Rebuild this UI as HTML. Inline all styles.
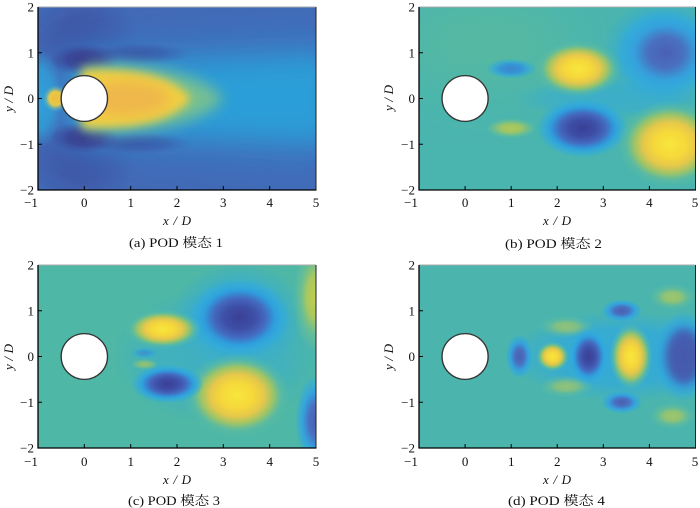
<!DOCTYPE html>
<html><head><meta charset="utf-8">
<style>
html,body{margin:0;padding:0;background:#fff;}
svg{display:block;}
.tk{font-family:"Liberation Serif","Noto Serif CJK SC",serif;font-size:13px;fill:#111;}
.lab{font-family:"Liberation Serif","Noto Serif CJK SC",serif;font-size:13px;font-style:italic;fill:#111;}
.cap{font-family:"Liberation Serif","Noto Serif CJK SC",serif;font-size:13px;fill:#111;}
</style></head>
<body>
<svg width="700" height="508" viewBox="0 0 700 508" xmlns="http://www.w3.org/2000/svg">
<defs>
  <clipPath id="cd" clipPathUnits="userSpaceOnUse"><rect x="-1" y="-2" width="6" height="4"/></clipPath>
  <filter id="b1" filterUnits="userSpaceOnUse" x="-2" y="-3" width="8" height="6"><feGaussianBlur stdDeviation="0.1"/></filter>
  <filter id="b15" filterUnits="userSpaceOnUse" x="-2" y="-3" width="8" height="6"><feGaussianBlur stdDeviation="0.15"/></filter>
  <filter id="b2" filterUnits="userSpaceOnUse" x="-2" y="-3" width="8" height="6"><feGaussianBlur stdDeviation="0.2"/></filter>
  <filter id="b3" filterUnits="userSpaceOnUse" x="-2" y="-3" width="8" height="6"><feGaussianBlur stdDeviation="0.3"/></filter>
  <filter id="b5" filterUnits="userSpaceOnUse" x="-2" y="-3" width="8" height="6"><feGaussianBlur stdDeviation="0.5"/></filter>

  <radialGradient id="gPos">
    <stop offset="0" stop-color="#f7e63c"/>
    <stop offset="0.3" stop-color="#f6d83a"/>
    <stop offset="0.5" stop-color="#e6c84a"/>
    <stop offset="0.68" stop-color="#9cc468"/>
    <stop offset="0.85" stop-color="#5cbca0" stop-opacity="0.6"/>
    <stop offset="1" stop-color="#5cbca0" stop-opacity="0"/>
  </radialGradient>
  <radialGradient id="gNeg">
    <stop offset="0" stop-color="#3a3f95"/>
    <stop offset="0.3" stop-color="#3e4fa6"/>
    <stop offset="0.5" stop-color="#4468be"/>
    <stop offset="0.7" stop-color="#2f9edd"/>
    <stop offset="0.86" stop-color="#30aadf" stop-opacity="0.6"/>
    <stop offset="1" stop-color="#30aadf" stop-opacity="0"/>
  </radialGradient>
  <radialGradient id="gNegL">
    <stop offset="0" stop-color="#4a5fb2"/>
    <stop offset="0.35" stop-color="#4a70c0"/>
    <stop offset="0.62" stop-color="#35a0dc"/>
    <stop offset="0.85" stop-color="#30aadf" stop-opacity="0.5"/>
    <stop offset="1" stop-color="#30aadf" stop-opacity="0"/>
  </radialGradient>
  <radialGradient id="gNegS">
    <stop offset="0" stop-color="#3d84cc"/>
    <stop offset="0.45" stop-color="#3596d6"/>
    <stop offset="0.8" stop-color="#30aadf" stop-opacity="0.5"/>
    <stop offset="1" stop-color="#30aadf" stop-opacity="0"/>
  </radialGradient>
  <radialGradient id="gPosL">
    <stop offset="0" stop-color="#c4ce4c"/>
    <stop offset="0.4" stop-color="#a8c860"/>
    <stop offset="0.72" stop-color="#70c090" stop-opacity="0.6"/>
    <stop offset="1" stop-color="#70c090" stop-opacity="0"/>
  </radialGradient>
  <radialGradient id="gPosS">
    <stop offset="0" stop-color="#b2c956"/>
    <stop offset="0.45" stop-color="#98c46a"/>
    <stop offset="0.8" stop-color="#70c090" stop-opacity="0.5"/>
    <stop offset="1" stop-color="#70c090" stop-opacity="0"/>
  </radialGradient>
  <radialGradient id="gCy">
    <stop offset="0" stop-color="#2fa8df" stop-opacity="0.9"/>
    <stop offset="0.6" stop-color="#2fa8df" stop-opacity="0.7"/>
    <stop offset="1" stop-color="#2fa8df" stop-opacity="0"/>
  </radialGradient>
  <radialGradient id="gDark">
    <stop offset="0" stop-color="#36368a"/>
    <stop offset="0.5" stop-color="#3a3f92" stop-opacity="0.8"/>
    <stop offset="1" stop-color="#3f4a9e" stop-opacity="0"/>
  </radialGradient>
  <radialGradient id="gSmY">
    <stop offset="0" stop-color="#f0bc3c"/>
    <stop offset="0.5" stop-color="#e6c84a"/>
    <stop offset="1" stop-color="#40b0d0" stop-opacity="0"/>
  </radialGradient>
</defs>

<!-- ===== Panel A ===== -->
<g transform="translate(84.33,98.5) scale(46.33,45.75)" clip-path="url(#cd)">
  <rect x="-1" y="-2" width="6" height="4" fill="#4268b4"/>
  <ellipse cx="0" cy="-1.3" rx="1.2" ry="1.0" fill="url(#gDark)" opacity="0.5"/>
  <ellipse cx="0" cy="1.3" rx="1.2" ry="1.0" fill="url(#gDark)" opacity="0.5"/>
  <path d="M -0.5,-1.2 L 5.3,-1.7 L 5.3,1.7 L -0.5,1.2 Z" fill="#3d74c0" filter="url(#b5)"/>
  <ellipse cx="-1" cy="0" rx="0.55" ry="1.1" fill="url(#gCy)"/>
  <path d="M -0.3,-0.72 L 5.4,-1.0 L 5.4,1.0 L -0.3,0.72 Z" fill="#2b9ed8" filter="url(#b3)"/>
  <ellipse cx="0" cy="-0.85" rx="0.75" ry="0.35" fill="url(#gDark)"/>
  <ellipse cx="0" cy="0.85" rx="0.75" ry="0.35" fill="url(#gDark)"/>
  <ellipse cx="1.2" cy="-0.98" rx="1.1" ry="0.24" fill="url(#gDark)" opacity="0.45"/>
  <ellipse cx="1.2" cy="0.98" rx="1.1" ry="0.24" fill="url(#gDark)" opacity="0.45"/>
  <ellipse cx="-0.62" cy="0" rx="0.28" ry="0.3" fill="url(#gSmY)"/>
  <path d="M -0.05,-0.72 C 1.2,-0.8 2.6,-0.55 3.0,0 C 2.6,0.55 1.2,0.8 -0.05,0.72 Z" fill="#74bf92" filter="url(#b15)"/>
  <path d="M -0.05,-0.62 C 1.1,-0.68 2.0,-0.45 2.3,0 C 2.0,0.45 1.1,0.68 -0.05,0.62 Z" fill="#f1cf40" filter="url(#b1)"/>
  <ellipse cx="0.9" cy="0" rx="0.95" ry="0.38" fill="#efb74b" filter="url(#b15)"/>
  <circle cx="0" cy="0" r="0.5" fill="#fff" stroke="#333" stroke-width="0.03"/>
</g>

<!-- ===== Panel B ===== -->
<g transform="translate(465.08,98.5) scale(46.08,45.75)" clip-path="url(#cd)">
  <rect x="-1" y="-2" width="6" height="4" fill="#4ab5ae"/>
  <ellipse cx="0.5" cy="-1.2" rx="1.8" ry="1.0" fill="#55b8a2" filter="url(#b5)"/>
  <ellipse cx="3.2" cy="0" rx="2.2" ry="0.45" fill="url(#gCy)" opacity="0.6"/>
  <ellipse cx="4.3" cy="-1.0" rx="1.35" ry="1.2" fill="url(#gCy)"/>
  <ellipse cx="4.35" cy="-1.0" rx="1.1" ry="0.95" fill="url(#gNegL)"/>
  <ellipse cx="2.55" cy="0.65" rx="1.0" ry="0.65" fill="url(#gNeg)"/>
  <ellipse cx="2.45" cy="-0.65" rx="0.95" ry="0.62" fill="url(#gPos)"/>
  <ellipse cx="4.45" cy="1.0" rx="1.15" ry="0.95" fill="url(#gPos)"/>
  <ellipse cx="1.0" cy="-0.65" rx="0.55" ry="0.22" fill="url(#gNegS)"/>
  <ellipse cx="1.0" cy="0.65" rx="0.55" ry="0.22" fill="url(#gPosS)"/>
  <circle cx="0" cy="0" r="0.5" fill="#fff" stroke="#333" stroke-width="0.03"/>
</g>

<!-- ===== Panel C ===== -->
<g transform="translate(84.33,356.5) scale(46.33,45.75)" clip-path="url(#cd)">
  <rect x="-1" y="-2" width="6" height="4" fill="#4eb7a6"/>
  <ellipse cx="2.9" cy="0" rx="2.3" ry="1.5" fill="url(#gCy)" opacity="0.55"/>
  <ellipse cx="3.35" cy="-0.9" rx="1.45" ry="1.15" fill="url(#gCy)" opacity="0.8"/>
  <ellipse cx="3.35" cy="-0.85" rx="1.1" ry="0.85" fill="url(#gNeg)"/>
  <ellipse cx="3.3" cy="0.85" rx="1.15" ry="0.92" fill="url(#gPos)"/>
  <ellipse cx="1.7" cy="-0.6" rx="0.82" ry="0.43" fill="url(#gPos)"/>
  <ellipse cx="1.8" cy="0.6" rx="0.78" ry="0.42" fill="url(#gNeg)"/>
  <ellipse cx="1.3" cy="-0.08" rx="0.3" ry="0.12" fill="url(#gNegS)" opacity="0.7"/>
  <ellipse cx="1.3" cy="0.17" rx="0.3" ry="0.12" fill="url(#gPosS)" opacity="0.7"/>
  <ellipse cx="5.0" cy="-1.3" rx="0.5" ry="1.2" fill="url(#gPosL)"/>
  <ellipse cx="5.0" cy="1.4" rx="0.45" ry="1.0" fill="url(#gNegL)"/>
  <circle cx="0" cy="0" r="0.5" fill="#fff" stroke="#333" stroke-width="0.03"/>
</g>

<!-- ===== Panel D ===== -->
<g transform="translate(465.08,356.5) scale(46.08,45.75)" clip-path="url(#cd)">
  <rect x="-1" y="-2" width="6" height="4" fill="#4bb5ad"/>
  <ellipse cx="3.4" cy="0" rx="2.5" ry="1.0" fill="url(#gCy)"/>
  <ellipse cx="2.2" cy="-0.65" rx="0.6" ry="0.24" fill="url(#gPosL)" opacity="0.6"/>
  <ellipse cx="2.2" cy="0.65" rx="0.6" ry="0.24" fill="url(#gPosL)" opacity="0.6"/>
  <ellipse cx="4.5" cy="-1.3" rx="0.5" ry="0.28" fill="url(#gPosL)" opacity="0.7"/>
  <ellipse cx="4.5" cy="1.3" rx="0.5" ry="0.28" fill="url(#gPosL)" opacity="0.7"/>
  <ellipse cx="3.4" cy="-1.0" rx="0.45" ry="0.25" fill="url(#gNegL)"/>
  <ellipse cx="3.4" cy="1.0" rx="0.45" ry="0.25" fill="url(#gNegL)"/>
  <ellipse cx="1.18" cy="0" rx="0.3" ry="0.48" fill="url(#gNegL)"/>
  <ellipse cx="1.9" cy="0" rx="0.36" ry="0.33" fill="url(#gPos)"/>
  <ellipse cx="2.68" cy="0" rx="0.44" ry="0.62" fill="url(#gNeg)"/>
  <ellipse cx="3.6" cy="0" rx="0.47" ry="0.72" fill="url(#gPos)"/>
  <ellipse cx="4.75" cy="0" rx="0.65" ry="1.0" fill="url(#gNegL)"/>
  <ellipse cx="4.75" cy="0" rx="0.4" ry="0.6" fill="#4558aa" filter="url(#b1)" opacity="0.8"/>
  <circle cx="0" cy="0" r="0.5" fill="#fff" stroke="#333" stroke-width="0.03"/>
</g>

<!-- ===== Axes frames & ticks ===== -->
<g fill="none" stroke-linecap="butt">
  <line x1="38" y1="7" x2="316" y2="7" stroke="#aaa" stroke-width="1"/>
  <line x1="316" y1="7" x2="316" y2="190" stroke="#222" stroke-width="1"/>
  <line x1="38" y1="7" x2="38" y2="190.5" stroke="#000" stroke-width="1.3"/>
  <line x1="37.5" y1="190" x2="316.5" y2="190" stroke="#000" stroke-width="1.3"/>
  <path stroke="#000" stroke-width="1" d="M84.3,190v-4M130.7,190v-4M177,190v-4M223.3,190v-4M269.7,190v-4 M38,52.75h4M38,98.5h4M38,144.25h4"/>

  <line x1="419" y1="7" x2="695.5" y2="7" stroke="#aaa" stroke-width="1"/>
  <line x1="695.5" y1="7" x2="695.5" y2="190" stroke="#222" stroke-width="1"/>
  <line x1="419" y1="7" x2="419" y2="190.5" stroke="#000" stroke-width="1.3"/>
  <line x1="418.5" y1="190" x2="696" y2="190" stroke="#000" stroke-width="1.3"/>
  <path stroke="#000" stroke-width="1" d="M465.1,190v-4M511.2,190v-4M557.2,190v-4M603.3,190v-4M649.4,190v-4 M419,52.75h4M419,98.5h4M419,144.25h4"/>

  <line x1="38" y1="265" x2="316" y2="265" stroke="#aaa" stroke-width="1"/>
  <line x1="316" y1="265" x2="316" y2="448" stroke="#222" stroke-width="1"/>
  <line x1="38" y1="265" x2="38" y2="448.5" stroke="#000" stroke-width="1.3"/>
  <line x1="37.5" y1="448" x2="316.5" y2="448" stroke="#000" stroke-width="1.3"/>
  <path stroke="#000" stroke-width="1" d="M84.3,448v-4M130.7,448v-4M177,448v-4M223.3,448v-4M269.7,448v-4 M38,310.75h4M38,356.5h4M38,402.25h4"/>

  <line x1="419" y1="265" x2="695.5" y2="265" stroke="#aaa" stroke-width="1"/>
  <line x1="695.5" y1="265" x2="695.5" y2="448" stroke="#222" stroke-width="1"/>
  <line x1="419" y1="265" x2="419" y2="448.5" stroke="#000" stroke-width="1.3"/>
  <line x1="418.5" y1="448" x2="696" y2="448" stroke="#000" stroke-width="1.3"/>
  <path stroke="#000" stroke-width="1" d="M465.1,448v-4M511.2,448v-4M557.2,448v-4M603.3,448v-4M649.4,448v-4 M419,310.75h4M419,356.5h4M419,402.25h4"/>
</g>

<!-- ===== Tick labels ===== -->
<g class="tk" text-anchor="middle">
  <text x="31" y="207">−1</text><text x="84.3" y="207">0</text><text x="130.7" y="207">1</text><text x="177" y="207">2</text><text x="223.3" y="207">3</text><text x="269.7" y="207">4</text><text x="316" y="207">5</text>
</g>
<g class="tk" text-anchor="end">
  <text x="34" y="11.5">2</text><text x="34" y="57.25">1</text><text x="34" y="103">0</text><text x="34" y="148.75">−1</text><text x="34" y="194.5">−2</text>
</g>
<g class="tk" text-anchor="middle">
  <text x="411" y="207">−1</text><text x="465.1" y="207">0</text><text x="511.2" y="207">1</text><text x="557.2" y="207">2</text><text x="603.3" y="207">3</text><text x="649.4" y="207">4</text><text x="695" y="207">5</text>
</g>
<g class="tk" text-anchor="end">
  <text x="415" y="11.5">2</text><text x="415" y="57.25">1</text><text x="415" y="103">0</text><text x="415" y="148.75">−1</text><text x="415" y="194.5">−2</text>
</g>
<g class="tk" text-anchor="middle">
  <text x="31" y="466">−1</text><text x="84.3" y="466">0</text><text x="130.7" y="466">1</text><text x="177" y="466">2</text><text x="223.3" y="466">3</text><text x="269.7" y="466">4</text><text x="316" y="466">5</text>
</g>
<g class="tk" text-anchor="end">
  <text x="34" y="269.5">2</text><text x="34" y="315.25">1</text><text x="34" y="361">0</text><text x="34" y="406.75">−1</text><text x="34" y="452.5">−2</text>
</g>
<g class="tk" text-anchor="middle">
  <text x="411" y="466">−1</text><text x="465.1" y="466">0</text><text x="511.2" y="466">1</text><text x="557.2" y="466">2</text><text x="603.3" y="466">3</text><text x="649.4" y="466">4</text><text x="695" y="466">5</text>
</g>
<g class="tk" text-anchor="end">
  <text x="415" y="269.5">2</text><text x="415" y="315.25">1</text><text x="415" y="361">0</text><text x="415" y="406.75">−1</text><text x="415" y="452.5">−2</text>
</g>

<!-- ===== Axis labels ===== -->
<g class="lab">
  <text x="163" y="225" textLength="28" lengthAdjust="spacing">x/D</text>
  <text x="543" y="225" textLength="28" lengthAdjust="spacing">x/D</text>
  <text x="163" y="484" textLength="28" lengthAdjust="spacing">x/D</text>
  <text x="543" y="484" textLength="28" lengthAdjust="spacing">x/D</text>
  <text transform="translate(13,112) rotate(-90)" textLength="26" lengthAdjust="spacing">y/D</text>
  <text transform="translate(393,111) rotate(-90)" textLength="26" lengthAdjust="spacing">y/D</text>
  <text transform="translate(13,370) rotate(-90)" textLength="26" lengthAdjust="spacing">y/D</text>
  <text transform="translate(393,370) rotate(-90)" textLength="26" lengthAdjust="spacing">y/D</text>
</g>

<!-- ===== Captions ===== -->
<g class="cap">
  <text x="129" y="247" textLength="94" lengthAdjust="spacingAndGlyphs">(a)  POD 模态 1</text>
  <text x="505" y="248" textLength="97" lengthAdjust="spacingAndGlyphs">(b)  POD 模态 2</text>
  <text x="128" y="505" textLength="92" lengthAdjust="spacingAndGlyphs">(c)  POD 模态 3</text>
  <text x="508" y="505" textLength="97" lengthAdjust="spacingAndGlyphs">(d)  POD 模态 4</text>
</g>
</svg>
</body></html>
